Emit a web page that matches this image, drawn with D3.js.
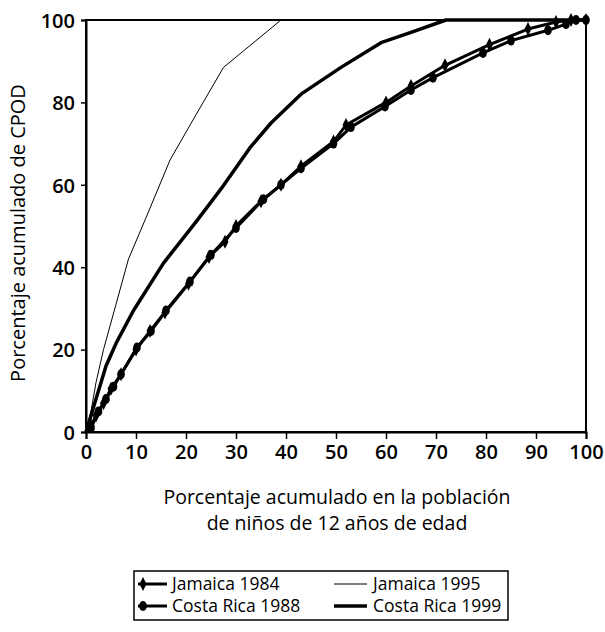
<!DOCTYPE html>
<html>
<head>
<meta charset="utf-8">
<script src="https://cdn.jsdelivr.net/npm/d3@7"></script>
<style>
  body { margin: 0; background: #fff; }
  svg text { font-family: "Open Sans", "Noto Sans", sans-serif; fill: #000; }
</style>
</head>
<body>
<svg id="chart"></svg>
<script>
// cumulative % of children (x) vs cumulative % of DMFT (y)
const jamaica1984 = [
  [0, 0], [1, 1.5], [2, 4], [3.5, 7], [5, 10.5], [7, 14], [10, 20], [12.8, 24.5],
  [15.8, 29], [20.5, 36], [24.6, 42.5], [27.8, 46.2], [30, 50], [35, 56], [39, 60],
  [43, 64.5], [49.5, 70.5], [52, 74.5], [60, 80], [65, 84], [71.8, 89], [80.7, 94],
  [88.4, 97.8], [94, 99.5], [97, 100], [100, 100]
];
const costaRica1988 = [
  [0, 0], [1, 1], [2.5, 5], [4, 8], [5.5, 11], [7, 14], [10.2, 20.5], [13, 24.5],
  [16, 29.5], [20.8, 36.5], [25, 43], [30, 49.5], [35.5, 56.5], [39, 60], [43, 64],
  [49.5, 70], [53, 74], [59.8, 79], [65, 83], [69.4, 86], [79.4, 92], [85, 95],
  [92.4, 97.5], [96, 99], [98, 100], [100, 100]
];
const jamaica1995 = [
  [0, 0], [1, 5], [2, 12], [3.5, 20], [6, 31], [8.5, 42], [12, 52], [16.8, 66],
  [22, 77], [27.5, 88.5], [33, 94], [39, 100], [100, 100]
];
const costaRica1999 = [
  [0, 0], [1, 4], [2, 8], [4, 16], [6, 21.5], [9.5, 29.5], [15.5, 41], [22, 51],
  [27, 59], [32.8, 69], [37, 75], [43, 82], [51, 88.5], [59, 94.5], [65, 97],
  [72, 100], [100, 100]
];
const xTicks = [0, 10, 20, 30, 40, 50, 60, 70, 80, 90, 100];
const yTicks = [0, 20, 40, 60, 80, 100];

const w = 605;
const h = 632;

const svg = d3.select("#chart").attr("width", w).attr("height", h);

const x = d3.scaleLinear().domain([0, 100]).range([86, 586]);
const y = d3.scaleLinear().domain([0, 100]).range([432, 20]);

const line = d3.line().x(d => x(d[0])).y(d => y(d[1]));

// frame
svg.append("rect")
  .attr("x", x(0)).attr("y", y(100))
  .attr("width", x(100) - x(0)).attr("height", y(0) - y(100))
  .attr("fill", "none").attr("stroke", "#000").attr("stroke-width", 2);

const yAxis = svg.append("g")
  .attr("transform", `translate(${x(0)},0)`)
  .call(d3.axisLeft(y).tickValues(yTicks).tickSize(5).tickPadding(6));
const xAxis = svg.append("g")
  .attr("transform", `translate(0,${y(0)})`)
  .call(d3.axisBottom(x).tickValues(xTicks).tickSize(7).tickPadding(6));

[xAxis, yAxis].forEach(g => {
  g.select(".domain").attr("stroke-width", 2);
  g.selectAll(".tick line").attr("stroke-width", 1.5);
  g.selectAll(".tick text")
    .attr("font-size", 20)
    .attr("font-weight", 600)
    .attr("font-family", "'Open Sans', sans-serif");
});
yAxis.selectAll(".tick text").attr("dy", "0.36em");

// series
const series = [
  { name: "Jamaica 1984", data: jamaica1984, width: 3, marker: "diamond" },
  { name: "Costa Rica 1988", data: costaRica1988, width: 3, marker: "circle" },
  { name: "Jamaica 1995", data: jamaica1995, width: 1, marker: null },
  { name: "Costa Rica 1999", data: costaRica1999, width: 3.5, marker: null }
];

const diamond = "M0,-7L3.5,0L0,7L-3.5,0Z";

const markerShape = (g, type) => {
  if (type === "diamond") {
    g.append("path").attr("d", diamond).attr("fill", "#000");
  } else {
    g.append("ellipse").attr("rx", 3.8).attr("ry", 5).attr("fill", "#000");
  }
};

series.forEach(s => {
  svg.append("path")
    .datum(s.data)
    .attr("d", line)
    .attr("fill", "none")
    .attr("stroke", "#000")
    .attr("stroke-width", s.width)
    .attr("stroke-linejoin", "round");

  if (s.marker) {
    svg.append("g")
      .selectAll("g")
      .data(s.data.slice(1))
      .enter()
      .append("g")
      .attr("transform", d => `translate(${x(d[0])},${y(d[1])})`)
      .each(function () { markerShape(d3.select(this), s.marker); });
  }
});

// axis titles
svg.append("text")
  .attr("transform", "translate(25,233) rotate(-90)")
  .attr("text-anchor", "middle")
  .attr("font-size", 20)
  .text("Porcentaje acumulado de CPOD");

svg.append("text")
  .attr("x", 337).attr("y", 504)
  .attr("text-anchor", "middle")
  .attr("font-size", 19.5)
  .text("Porcentaje acumulado en la población");
svg.append("text")
  .attr("x", 337).attr("y", 530)
  .attr("text-anchor", "middle")
  .attr("font-size", 19.5)
  .text("de niños de 12 años de edad");

// legend
const legend = svg.append("g");
legend.append("rect")
  .attr("x", 134).attr("y", 571)
  .attr("width", 374).attr("height", 49)
  .attr("fill", "none").attr("stroke", "#000").attr("stroke-width", 1.5);

const legendPos = [[138, 584], [138, 606], [334, 584], [334, 606]];
series.forEach((s, i) => {
  const [lx, ly] = legendPos[i];
  legend.append("line")
    .attr("x1", lx).attr("x2", lx + (s.marker ? 29 : 33))
    .attr("y1", ly).attr("y2", ly)
    .attr("stroke", "#000").attr("stroke-width", s.width);
  if (s.marker) {
    const m = legend.append("g").attr("transform", `translate(${lx + 5},${ly})`);
    markerShape(m, s.marker);
  }
  legend.append("text")
    .attr("x", lx + (s.marker ? 34 : 39)).attr("y", ly)
    .attr("dy", "0.35em")
    .attr("font-size", 17.5)
    .text(s.name);
});
</script>
</body>
</html>
